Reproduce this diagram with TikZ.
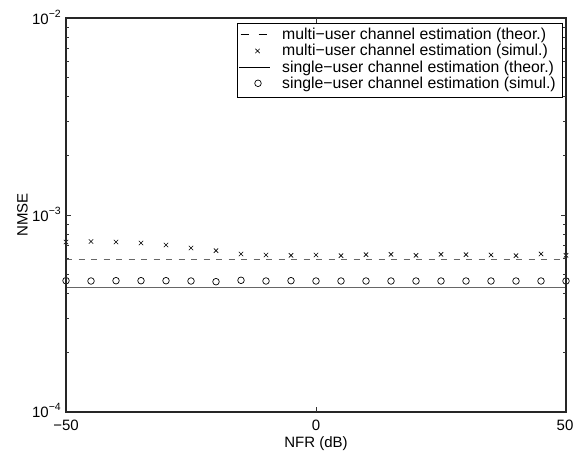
\documentclass[tikz,border=0pt]{standalone}
\usepackage{fontspec}
\setmainfont{Liberation Sans}
\begin{document}
\begin{tikzpicture}[x=1pt,y=-1pt,
  font=\fontsize{15}{18}\selectfont,
  axisline/.style={line width=1.1pt, black!85},
  tickline/.style={line width=0.6pt, black!80},
  theorline/.style={line width=0.9pt, black!60},
  markstroke/.style={line width=0.7pt, black},
  ticklabel/.style={inner sep=0pt},
  legtext/.style={anchor=base west, inner sep=0pt, font=\fontsize{15.8}{18}\selectfont}]
\useasboundingbox (0,0) rectangle (574,454);
\fill[white] (0,0) rectangle (574,454);

% theoretical curves
\draw[theorline, dash pattern=on 6pt off 6.5pt] (66,259.3) -- (566,259.3);
\draw[theorline] (66,287.7) -- (566,287.7);

% simulated multi-user points (crosses)
\foreach \xd/\yp in {-50/242,-45/241.5,-40/242,-35/243,-30/245,-25/248,-20/250.7,-15/254,
                     -10/255,-5/255.3,0/255,5/255.7,10/254.7,15/254.3,20/255.3,25/254.3,
                     30/254.7,35/255,40/255.7,45/254,50/255.3}{
  \pgfmathsetmacro\xp{66+5*(\xd+50)}
  \draw[markstroke] (\xp-2.2,\yp-2.2) -- (\xp+2.2,\yp+2.2)
                    (\xp-2.2,\yp+2.2) -- (\xp+2.2,\yp-2.2);
}

% simulated single-user points (circles)
\foreach \xd/\yp in {-50/280.7,-45/281,-40/280.7,-35/280.7,-30/280.7,-25/281,-20/281.7,-15/280.3,
                     -10/281,-5/280.7,0/281,5/281,10/281,15/281,20/281,25/281,
                     30/281,35/281,40/281,45/281,50/281}{
  \pgfmathsetmacro\xp{66+5*(\xd+50)}
  \draw[markstroke] (\xp,\yp) circle[radius=3.3];
}

% axes frame
\draw[axisline] (66,18) rectangle (566,412);

% logarithmic y ticks
\foreach \k in {0,1}{
  \foreach \m in {2,...,9}{
    \pgfmathsetmacro\yy{412-197*(\k+log10(\m))}
    \draw[tickline] (66,\yy) -- ++(3,0);
    \draw[tickline] (566,\yy) -- ++(-3,0);
  }
}
\draw[tickline] (66,215) -- ++(5,0);
\draw[tickline] (566,215) -- ++(-5,0);

% x ticks
\draw[tickline] (316,412) -- ++(0,-5);
\draw[tickline] (316,18) -- ++(0,5);

% y tick labels
\node[ticklabel, anchor=base east] (y2) at (61,25) {10\raisebox{7pt}{\fontsize{10.5}{12}\selectfont −2}};
\node[ticklabel, anchor=base east] (y3) at (61,222) {10\raisebox{7pt}{\fontsize{10.5}{12}\selectfont −3}};
\node[ticklabel, anchor=base east] (y4) at (61,417.5) {10\raisebox{7pt}{\fontsize{10.5}{12}\selectfont −4}};

% x tick labels
\node[ticklabel, anchor=base] (xm50) at (66,431) {−50};
\node[ticklabel, anchor=base] (x0) at (316,431) {0};
\node[ticklabel, anchor=base] (x50) at (565,431) {50};

% axis labels
\node[ticklabel, anchor=base] (xlab) at (316,447.5) {NFR (dB)};
\node[ticklabel, anchor=base, rotate=90] (ylab) at (27.5,215) {NMSE};

% legend
\draw[line width=0.9pt, fill=white] (237,23) rectangle (562,97);
\draw[line width=0.8pt, dash pattern=on 8.5pt off 9.5pt] (240.5,34.5) -- (267,34.5);
\draw[markstroke] (255.3,48.8) -- (259.7,53.2) (255.3,53.2) -- (259.7,48.8);
\draw[line width=0.8pt] (239,67.2) -- (270,67.2);
\draw[markstroke] (258,83.3) circle[radius=3.3];
\node[legtext] (l1) at (282,39.5) {multi−user channel estimation (theor.)};
\node[legtext] (l2) at (282,55.9) {multi−user channel estimation (simul.)};
\node[legtext] (l3) at (282,72.3) {single−user channel estimation (theor.)};
\node[legtext] (l4) at (282,88.7) {single−user channel estimation (simul.)};
\end{tikzpicture}
\end{document}
